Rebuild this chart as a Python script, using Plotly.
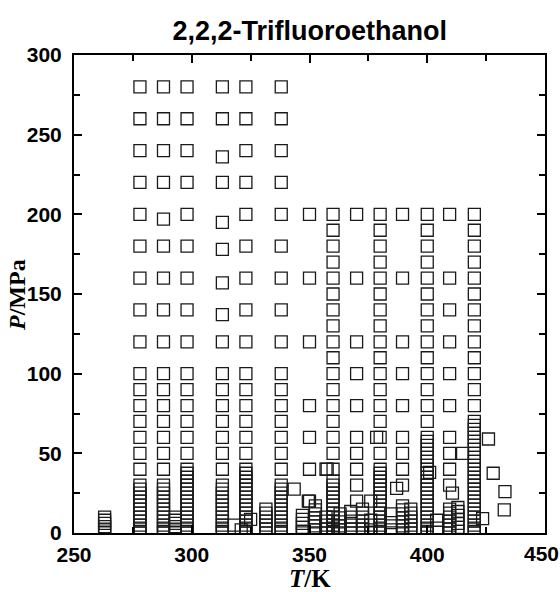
import plotly.graph_objects as go

# ---------------- data ----------------
# isotherm temperatures, K
T_iso = [263, 278, 288, 293, 298, 313, 323, 331.5, 338,
         347, 350, 352.5, 357, 360, 363, 367.5, 370, 372.5, 376,
         380, 384.5, 389.5, 393, 400, 404, 409.5, 413, 420]

# pressures (MPa) measured along each isotherm
P_263 = [10, 8, 6, 4, 2, 0.1]
P_278 = [280, 260, 240, 220, 200, 180, 160, 140, 120, 100, 90, 80, 70, 60, 50, 40,
         30, 27.5, 25, 22.5, 20, 17.5, 15, 12.5, 10, 7.5, 5, 3, 1, 0.1]
P_288 = [280, 260, 240, 220, 197, 180, 160, 140, 120, 100, 90, 80, 70, 60, 50, 40,
         30, 27.5, 25, 22.5, 20, 17.5, 15, 12.5, 10, 7.5, 5, 3, 1, 0.1]
P_293 = [10, 8, 6, 4, 2, 0.1]
P_298 = [280, 260, 240, 220, 200, 180, 160, 140, 120, 100, 90, 80, 70, 60, 50,
         40, 37.5, 35, 32.5, 30, 27.5, 25, 22.5, 20, 17.5, 15, 12.5, 10, 7.5, 5, 3, 1, 0.1]
P_313 = [280, 260, 236, 220, 195, 178, 157, 137, 120, 100, 90, 80, 70, 60, 50, 40,
         30, 27.5, 25, 22.5, 20, 17.5, 15, 12.5, 10, 7.5, 5, 3, 1, 0.1]
P_323 = [280, 260, 240, 220, 200, 180, 160, 140, 120, 100, 90, 80, 70, 60, 50,
         40, 37.5, 35, 32.5, 30, 27.5, 25, 22.5, 20, 17.5, 15, 12.5, 10, 7.5, 5, 3, 1, 0.1]
P_331 = [15, 12.5, 10, 7.5, 5, 2.5, 0.1]
P_338 = [280, 260, 240, 220, 200, 180, 160, 140, 120, 100, 90, 80, 70, 60, 50, 40,
         30, 27.5, 25, 22.5, 20, 17.5, 15, 12.5, 10, 7.5, 5, 3, 1, 0.1]
P_347 = [11, 8.5, 6, 3.5, 1, 0.1]
P_350 = [200, 160, 120, 80, 60, 40, 20]
P_352 = [17, 14.5, 12, 9.5, 7, 4.5, 2, 0.1]
P_357 = [40, 10, 7.5, 5, 2.5, 0.1]
P_360 = [200, 190, 180, 170, 160, 150, 140, 130, 120, 110, 100, 90, 80, 70, 60, 50, 40,
         32.5, 30, 27.5, 25, 22.5, 20, 17.5, 15, 12.5, 10, 7.5, 5, 3, 1, 0.1]
P_363 = [12, 9.5, 7, 4.5, 2, 0.1]
P_367 = [13.5, 10, 7.5, 5, 2.5, 0.1]
P_370 = [200, 160, 120, 100, 80, 60, 50, 40, 30, 20]
P_372 = [15, 12.5, 10, 7.5, 5, 2.5, 0.1]
P_376 = [20, 8, 5, 2, 0.1]
P_380 = [200, 190, 180, 170, 160, 150, 140, 130, 120, 110, 100, 90, 80, 70, 60, 50,
         40, 37.5, 35, 32.5, 30, 27.5, 25, 22.5, 20, 17.5, 15, 12.5, 10, 7.5, 5, 3, 1, 0.1]
P_384 = [12, 6.5, 2, 0.1]
P_390 = [200, 160, 120, 100, 80, 60, 50, 40, 30, 17, 14.5, 12, 9.5, 7, 4.5, 2, 0.1]
P_393 = [15, 12.5, 10, 7.5, 5, 2.5, 0.1]
P_400 = [200, 190, 180, 170, 160, 150, 140, 130, 120, 110, 100, 90, 80, 70,
         60, 57.5, 55, 52.5, 50, 47.5, 45, 42.5, 40, 37.5, 35, 32.5, 30, 27.5, 25, 22.5,
         20, 17.5, 15, 12.5, 10, 7.5, 5, 3, 1, 0.1]
P_404 = [8, 3]
P_410 = [200, 160, 140, 120, 100, 80, 60, 50, 40, 30, 15, 12.5, 10, 7.5, 5, 2.5, 0.1]
P_413 = [16, 13.5, 11, 8.5, 6, 3.5, 1]
P_420 = [200, 190, 180, 170, 160, 150, 140, 130, 120, 110, 100, 90, 80,
         70, 67.5, 65, 62.5, 60, 57.5, 55, 52.5, 50, 47.5, 45, 42.5, 40, 37.5, 35, 32.5,
         30, 27.5, 25, 22.5, 20, 17.5, 15, 12.5, 10, 7.5, 5, 3, 1, 0.1]

# isolated points (T, P) off the main isotherms
T_extra = [318, 321, 325, 343.5, 349.5, 357.5, 378.5, 387, 401, 410.7, 415,
           423.5, 426, 428, 433, 432.7]
P_extra = [5, 2, 8.5, 27.5, 20, 40, 60, 28, 38, 25, 50,
           9, 59, 37.5, 26, 14.5]

P_iso = [P_263, P_278, P_288, P_293, P_298, P_313, P_323, P_331, P_338,
         P_347, P_350, P_352, P_357, P_360, P_363, P_367, P_370, P_372, P_376,
         P_380, P_384, P_390, P_393, P_400, P_404, P_410, P_413, P_420]

x_ticks = [250, 300, 350, 400, 450]
y_ticks = [0, 50, 100, 150, 200, 250, 300]

# ---------------- build ----------------
xs, ys = [], []
for T, Ps in zip(T_iso, P_iso):
    xs += [T] * len(Ps)
    ys += Ps
xs += T_extra
ys += P_extra

fig = go.Figure(go.Scatter(
    x=xs, y=ys, mode="markers",
    marker=dict(symbol="square-open", size=12, color="#1a1a1a",
                line=dict(width=1.3, color="#1a1a1a")),
    showlegend=False, hoverinfo="skip"))

tickfont = dict(family="Liberation Sans, Arial, sans-serif", size=21,
                color="black", weight="bold")

# the last x tick label sits at the page edge; draw it as an annotation so it is kept
edge_labels = [dict(text=str(x_ticks[-1]), xref="x", yref="paper", x=x_ticks[-1],
                    y=-(553 - 533) / 478, xanchor="center", yanchor="middle",
                    showarrow=False, xshift=-4, font=tickfont)]

fig.update_layout(
    width=560, height=592,
    margin=dict(l=74, r=15, t=55, b=59, pad=0),
    paper_bgcolor="white", plot_bgcolor="white",
    title=dict(text="<b>2,2,2-Trifluoroethanol</b>",
               font=dict(family="Liberation Sans, Arial, sans-serif", size=27, color="black"),
               x=0.553, xanchor="center", y=1 - 31 / 592, yanchor="middle"),
    xaxis=dict(range=[250, 450], tickvals=x_ticks[:-1] + [x_ticks[-1]],
               ticktext=[str(v) for v in x_ticks[:-1]] + [""],
               ticks="inside", ticklen=8, tickwidth=1.5, tickcolor="black",
               minor=dict(dtick=25, ticks="inside", ticklen=6, tickwidth=1.5, tickcolor="black"),
               showline=True, linewidth=2, linecolor="black", mirror="ticks",
               showgrid=False, zeroline=False, tickfont=tickfont,
               ticklabelstandoff=2),
    yaxis=dict(range=[0, 300], tickvals=y_ticks,
               ticks="inside", ticklen=8, tickwidth=1.5, tickcolor="black",
               minor=dict(dtick=25, ticks="inside", ticklen=6, tickwidth=1.5, tickcolor="black"),
               showline=True, linewidth=2, linecolor="black", mirror="ticks",
               showgrid=False, zeroline=False, tickfont=tickfont,
               ticklabelstandoff=6),
    annotations=edge_labels + [
        dict(text="<b><i>T</i>/K</b>", xref="paper", yref="paper",
             x=0.5, y=-(578 - 533) / 478, xanchor="center", yanchor="middle",
             showarrow=False,
             font=dict(family="Liberation Serif, Times New Roman, serif", size=25, color="black")),
        dict(text="<b><i>P</i>/MPa</b>", xref="paper", yref="paper",
             x=(17 - 74) / 471, y=(533 - 295) / 478, xanchor="center", yanchor="middle",
             textangle=-90, showarrow=False,
             font=dict(family="Liberation Serif, Times New Roman, serif", size=24, color="black")),
    ],
)

fig.write_html("out.html")
